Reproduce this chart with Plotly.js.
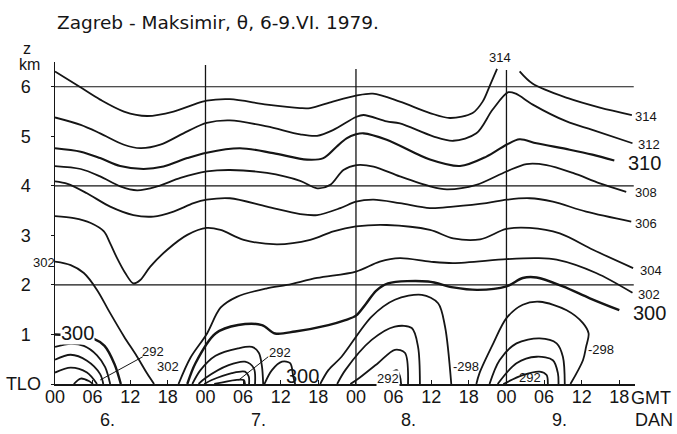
<!DOCTYPE html>
<html><head><meta charset="utf-8">
<script src="https://cdn.plot.ly/plotly-3.0.1.min.js"></script>
<style>html,body{margin:0;padding:0;background:#fff;}#chart{width:677px;height:434px;}</style>
</head><body><div id="chart"></div>
<script>
// ---- axes / ticks ----
const hourTicks = [0,6,12,18,24,30,36,42,48,54,60,66,72,78,84,90];
const hourTickText = ["00","06","12","18","00","06","12","18","00","06","12","18","00","06","12","18"];
const heightTicks = [0,1,2,3,4,5,6];
const heightTickText = ["TLO","1\u2007","2\u2007","3\u2007","4\u2007","5\u2007","6\u2007"];
const dayNames = ["6.","7.","8.","9."];
const gridLevels = [2,4,6];
const dayStarts = [24,48,72];
const dayLineTops = [6.44,6.36,6.34];

// ---- isentropes (time in hours from 6 June 00 GMT, height in km) ----
const t314a = [0,3.8,7.2,11.0,14.7,18.9,22.1,24.2,27.9,33.8,39.1,40.7,44.3,48.0,50.7,55.0,59.8,63.0,66.6,68.2,69.3,70.5];
const z314a = [6.31,6.01,5.74,5.50,5.41,5.50,5.64,5.72,5.75,5.64,5.57,5.57,5.70,5.82,5.86,5.70,5.47,5.37,5.47,5.70,6.01,6.36];
const t314b = [74.1,76.2,81.8,86.9,92.0];
const z314b = [6.31,6.06,5.77,5.58,5.43];
const t312 = [0,4.1,7.2,11.0,13.6,16.8,21.1,24.2,27.9,33.8,39.1,41.8,44.4,48.0,49.2,52.9,55.0,60.3,63.5,67.2,69.8,72.3,73.5,76.2,81.6,85.7,92.1];
const z312 = [5.38,5.23,5.06,4.83,4.76,4.83,5.10,5.27,5.32,5.20,5.04,5.01,5.13,5.39,5.43,5.30,5.26,5.00,4.91,5.06,5.54,5.89,5.86,5.64,5.30,5.13,4.86];
const t310 = [0,4.1,7.2,10.4,14.1,17.3,21.1,24.2,29.5,34.8,40.2,42.8,44.9,46.5,48.0,49.2,52.9,59.8,64.6,68.8,72.0,74.1,76.8,82.1,85.7,89.2];
const z310 = [4.76,4.69,4.56,4.40,4.34,4.39,4.56,4.67,4.76,4.66,4.53,4.56,4.79,4.96,5.04,5.06,4.93,4.53,4.40,4.59,4.83,4.94,4.86,4.73,4.63,4.51];
const t308 = [0,4.1,7.2,10.4,13.1,16.3,20.0,24.2,27.9,33.8,39.1,41.8,43.9,46.0,48.1,50.8,55.0,59.8,62.5,67.2,72.0,75.2,78.4,82.6,86.9,91.1];
const z308 = [4.40,4.34,4.19,3.99,3.91,3.99,4.16,4.29,4.32,4.26,4.10,3.95,4.02,4.32,4.42,4.39,4.19,3.99,3.93,4.02,4.29,4.44,4.42,4.26,4.05,3.88];
const t306 = [0,2.0,5.1,8.8,12.5,15.7,18.9,22.1,24.2,27.9,33.8,39.1,41.8,45.5,48.0,50.8,55.0,59.8,63.5,68.8,72.0,75.7,79.4,84.7,91.9];
const z306 = [4.09,4.04,3.85,3.58,3.41,3.38,3.48,3.65,3.72,3.75,3.58,3.43,3.41,3.55,3.68,3.72,3.65,3.55,3.58,3.65,3.72,3.75,3.68,3.48,3.28];
const t304 = [0,3.0,5.7,7.8,8.8,9.9,11.2,12.5,13.6,15.2,17.9,21.1,24.2,26.4,30.1,35.4,40.7,44.4,48.0,52.9,59.8,63.5,67.8,72.0,75.7,80.5,85.8,92.2];
const z304 = [3.39,3.35,3.25,3.08,2.84,2.54,2.24,2.03,2.10,2.37,2.71,3.01,3.15,3.11,2.91,2.82,2.91,3.08,3.18,3.21,3.11,2.94,2.92,3.13,3.15,3.04,2.71,2.34];
const t302a = [0,2.5,4.6,6.7,8.8,11.0,13.1,14.7,15.8];
const z302a = [2.47,2.40,2.24,1.90,1.43,0.96,0.55,0.21,0];
const t302b = [19.7,21.6,24.2,26.4,29.0,33.8,37.0,41.8,48.0,51.8,55.0,59.8,63.5,72.0,76.8,80.0,86.3,92.1];
const z302b = [0,0.53,1.01,1.54,1.76,1.93,2.00,2.14,2.27,2.47,2.54,2.47,2.44,2.52,2.54,2.51,2.24,1.84];
const t300a = [0,3.0,6.2,7.9,9.5,10.5];
const z300a = [1.00,0.98,0.91,0.77,0.40,0];
const t300b = [21.1,22.4,25.6,29.2,33.0,35.1,38.3,43.6,46.3,48.0,49.6,51.2,53.1,59.5,63.5,67.4,72.0,74.6,76.8,81.0,85.3,90.0];
const z300b = [0,0.42,1.02,1.19,1.19,1.02,1.06,1.19,1.29,1.38,1.62,1.88,2.03,2.07,1.95,1.90,1.97,2.14,2.15,1.97,1.73,1.49];
const t300c = [33.4,34.6,36.2,37.5,38.0,38.3];
const z300c = [0,0.28,0.45,0.42,0.15,0];
const t298a = [0,2.5,4.6,6.7,8.0,8.8];
const z298a = [0.75,0.81,0.77,0.58,0.34,0];
const t298b = [21.9,23.2,25.6,29.2,31.4,32.5,33.0,33.2];
const z298b = [0,0.28,0.57,0.72,0.75,0.63,0.36,0];
const t298c = [42.3,43.6,45.7,50.5,54.2,58.5,61.1,62.2,63.2];
const z298c = [0,0.28,0.55,1.36,1.70,1.80,1.63,1.16,0];
const t298d = [67.2,67.7,69.9,72.0,74.6,77.3,81.6,84.2,85.1,84.7,84.2,82.2];
const z298d = [0,0.22,0.82,1.33,1.60,1.66,1.49,1.23,1.02,0.75,0.48,0];
const t296a = [0,2.5,5.1,7.2,7.7];
const z296a = [0.49,0.59,0.47,0.20,0];
const t296b = [22.9,24.0,27.7,30.3,31.7,31.9];
const z296b = [0,0.12,0.38,0.45,0.32,0];
const t296c = [45.0,46.3,50.5,54.2,56.9,57.9,58.2];
const z296c = [0,0.28,0.89,1.16,1.13,0.75,0];
const t296d = [69.3,70.9,73.6,77.3,80.0,81.0,81.3];
const z296d = [0,0.48,0.82,0.92,0.82,0.55,0];
const t294a = [0,2.5,5.1,6.7];
const z294a = [0.23,0.33,0.23,0];
const t294b = [23.8,25.0,28.2,30.3,30.9,30.95];
const z294b = [0,0.08,0.22,0.25,0.15,0];
const t294c = [47.1,48.3,51.5,54.2,55.8,56.3];
const z294c = [0,0.10,0.42,0.69,0.63,0];
const t294d = [70.6,73.6,76.8,79.4,80.2,80.3];
const z294d = [0,0.42,0.55,0.48,0.22,0];
const t292a = [3.0,4.1,5.4,6.05];
const z292a = [0,0.11,0.06,0];
const t292b = [25.4,28.7,30.1,30.3];
const z292b = [0,0.08,0.08,0];
const t292c = [52.1,53.4,54.5,55.0,55.2];
const z292c = [0,0.20,0.28,0.16,0];
const t292d = [71.5,74.6,77.3,78.4,78.6];
const z292d = [0,0.18,0.25,0.18,0];

// ---- contour labels ----
const labelText = ["314","314","312","310","308","306","304","302","300","302","300","292","302","292","300","292","-298","-298","292"];
const labelT    = [70.9,94.3,94.8,94.0,94.3,94.3,95.1,94.8,94.8,-1.7,3.6,15.7,18.1,35.9,39.4,53.1,65.5,87.0,75.7];
const labelZ    = [6.6,5.39,4.83,4.46,3.86,3.25,2.30,1.80,1.43,2.46,1.03,0.65,0.36,0.63,0.16,0.12,0.36,0.69,0.14];
const labelBig  = [0,0,0,1,0,0,0,0,1,0,1,0,0,0,1,0,0,0,0];
const leaderFrom = [[14.0,0.55],[34.0,0.55]];
const leaderTo   = [[7.2,0.08],[29.3,0.08]];

const FONT = "Liberation Sans, Arial, sans-serif";
const INK = "#151515";
const XR = [0,92.5], YR = [0,6.5];

const contours = [
  [t314a,z314a,0],[t314b,z314b,0],[t312,z312,0],[t310,z310,1],[t308,z308,0],
  [t306,z306,0],[t304,z304,0],[t302a,z302a,0],[t302b,z302b,0],
  [t300a,z300a,2],[t300b,z300b,2],[t300c,z300c,0],
  [t298a,z298a,0],[t298b,z298b,0],[t298c,z298c,0],[t298d,z298d,0],
  [t296a,z296a,0],[t296b,z296b,0],[t296c,z296c,0],[t296d,z296d,0],
  [t294a,z294a,0],[t294b,z294b,0],[t294c,z294c,0],[t294d,z294d,0],
  [t292a,z292a,0],[t292b,z292b,0],[t292c,z292c,0],[t292d,z292d,0]
];
const widths = [1.8, 2.1, 2.4];

const traces = contours.map(c => ({
  type:"scatter", mode:"lines", x:c[0], y:c[1], hoverinfo:"skip",
  line:{color:INK, width:widths[c[2]], shape:"spline", smoothing:0.9},
  cliponaxis:false
}));
leaderFrom.forEach((p,i)=>{
  traces.push({type:"scatter",mode:"lines",x:[p[0],leaderTo[i][0]],y:[p[1],leaderTo[i][1]],
    hoverinfo:"skip",line:{color:INK,width:1}});
});

const shapes = [];
gridLevels.forEach(g=>shapes.push({type:"line",xref:"x",yref:"y",x0:-0.6,x1:92.3,y0:g,y1:g,line:{color:INK,width:1.2},layer:"below"}));
dayStarts.forEach((d,i)=>shapes.push({type:"line",xref:"x",yref:"y",x0:d,x1:d,y0:0,y1:dayLineTops[i],line:{color:INK,width:1.3},layer:"below"}));

// data -> paper mapping (annotations outside the axis range would be hidden otherwise)
const px = t => (t-XR[0])/(XR[1]-XR[0]);
const py = z => (z-YR[0])/(YR[1]-YR[0]);

const annotations = labelText.map((s,i)=>({
  x:px(labelT[i]), y:py(labelZ[i]), xref:"paper", yref:"paper", text:s, showarrow:false,
  xanchor:"center", yanchor:"middle",
  font:{family:FONT, size:labelBig[i]?20:13, color:INK},
  bgcolor: (i===10||i===15) ? "#ffffff" : "rgba(0,0,0,0)", borderpad:0
}));
dayNames.forEach((d,i)=>annotations.push({x:px(i*24+8.4), y:-0.112, xref:"paper", yref:"paper", text:d, showarrow:false, xanchor:"center", yanchor:"middle", font:{family:FONT,size:18,color:INK}}));

// page labels placed in pixels of the 677x434 page
const W=677,H=434,ML=55,MR=42,MT=62,MB=50;
const pageLabels = [["GMT",651,398,18],["DAN",654,420,18],["z",27,48,16],["km",29,65,16]];
pageLabels.forEach(p=>annotations.push({
  x:(p[1]-ML)/(W-ML-MR), y:(H-MB-p[2])/(H-MT-MB), xref:"paper", yref:"paper",
  text:p[0], showarrow:false, xanchor:"center", yanchor:"middle", font:{family:FONT,size:p[3],color:INK}
}));

const layout = {
  width:W, height:H, margin:{l:ML,r:MR,t:MT,b:MB,pad:0},
  paper_bgcolor:"#ffffff", plot_bgcolor:"#ffffff", showlegend:false,
  font:{family:FONT,color:INK},
  title:{text:"Zagreb - Maksimir, \u03b8, 6-9.VI. 1979.", xref:"container", yref:"container", x:57/W, xanchor:"left", y:1-23/H, yanchor:"middle", font:{family:"DejaVu Sans, sans-serif",size:18.5,color:INK}},
  xaxis:{range:XR, tickvals:hourTicks, ticktext:hourTickText, ticks:"inside", ticklen:4, tickcolor:INK,
    showline:true, linecolor:INK, linewidth:1.5, showgrid:false, zeroline:false, tickfont:{family:FONT,size:18,color:INK}, ticklabelstandoff:-4, fixedrange:true},
  yaxis:{range:YR, tickvals:heightTicks, ticktext:heightTickText, ticks:"outside", ticklen:3, tickcolor:INK,
    showline:true, linecolor:INK, linewidth:1.5, showgrid:false, zeroline:false, tickfont:{family:FONT,size:18,color:INK}, ticklabelstandoff:6, fixedrange:true},
  shapes:shapes, annotations:annotations
};

Plotly.newPlot("chart", traces, layout, {staticPlot:true, displayModeBar:false});
</script></body></html>
